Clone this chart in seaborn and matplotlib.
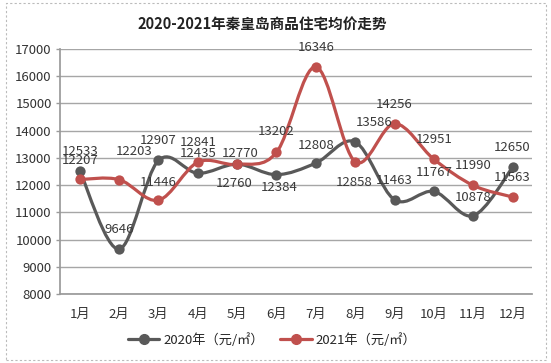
import numpy as np
import pandas as pd
import matplotlib
matplotlib.use("Agg")
import matplotlib.pyplot as plt
import seaborn as sns
from matplotlib.path import Path
from matplotlib.patches import PathPatch, Rectangle
from matplotlib.lines import Line2D

# Data
months = ["1月", "2月", "3月", "4月", "5月", "6月", "7月", "8月", "9月", "10月", "11月", "12月"]
price_2020 = [12533, 9646, 12907, 12435, 12770, 12384, 12808, 13586, 11463, 11767, 10878, 12650]
price_2021 = [12207, 12203, 11446, 12841, 12760, 13202, 16346, 12858, 14256, 12951, 11990, 11563]
series_names = ["2020年（元/㎡）", "2021年（元/㎡）"]
y_ticks = [8000, 9000, 10000, 11000, 12000, 13000, 14000, 15000, 16000, 17000]

# label offsets in points (dx, dy)
off_2020 = [(0, 14), (0, 14), (0, 14), (0, 14), (2, 8), (2, -9),
            (0, 13), (14, 14), (0, 14), (0, 14), (0, 13), (0, 14)]
off_2021 = [(0, 14), (11, 20), (0, 13), (0, 14), (-2, -14), (0, 15),
            (0, 14), (-1, -15), (0, 14), (0, 14), (0, 14), (0, 14)]

df = pd.DataFrame({"month": months, "x": np.arange(len(months)),
                   series_names[0]: price_2020, series_names[1]: price_2021})

gray = "#595959"
red = "#c0504d"

sns.set_theme(style="white", rc={"axes.edgecolor": "#9a9a9a"})
plt.rcParams["font.family"] = ["Noto Sans CJK SC", "DejaVu Sans"]

fig = plt.figure(figsize=(5.51, 3.63), dpi=100)
ax = fig.add_axes([0.109, 0.19, 0.857, 0.675])


def smooth_path(xs, ys):
    # Catmull-Rom style bezier, like Excel's smoothed line
    pts = np.column_stack([xs, ys]).astype(float)
    n = len(pts)
    verts = [pts[0]]
    codes = [Path.MOVETO]
    for i in range(n - 1):
        p0 = pts[i - 1] if i > 0 else pts[i]
        p1 = pts[i]
        p2 = pts[i + 1]
        p3 = pts[i + 2] if i + 2 < n else pts[i + 1]
        c1 = p1 + (p2 - p0) / 6.0
        c2 = p2 - (p3 - p1) / 6.0
        verts += [c1, c2, p2]
        codes += [Path.CURVE4] * 3
    return Path(verts, codes)


for name, color, offs in [(series_names[0], gray, off_2020), (series_names[1], red, off_2021)]:
    patch = PathPatch(smooth_path(df["x"], df[name]), facecolor="none",
                      edgecolor=color, lw=2.3, zorder=3, capstyle="round")
    ax.add_patch(patch)
    sns.scatterplot(data=df, x="x", y=name, color=color, s=55, edgecolor=color,
                    linewidth=0, zorder=4, ax=ax, legend=False)
    for xi, yi, (dx, dy) in zip(df["x"], df[name], offs):
        ax.annotate(str(yi), (xi, yi), xytext=(dx, dy), textcoords="offset points",
                    ha="center", va="center", fontsize=9.5, color="#3a3a3a", zorder=5)

ax.set_xlim(-0.5, len(months) - 0.5)
ax.set_ylim(8000, 17000)
ax.set_yticks(y_ticks)
ax.set_yticklabels([str(v) for v in y_ticks], fontsize=9.5, color="#333333")
ax.set_xticks(df["x"])
ax.set_xticklabels(months, fontsize=9.5, color="#333333")
ax.set_xticks(np.arange(-0.5, len(months), 1.0), minor=True)
ax.tick_params(axis="x", which="major", length=0, pad=10)
ax.tick_params(axis="x", which="minor", length=4, color="#9a9a9a", width=1, direction="out")
ax.tick_params(axis="y", length=3, color="#9a9a9a", width=1, pad=3, left=True)
ax.set_xlabel("")
ax.set_ylabel("")
ax.grid(axis="y", color="#a6a6a6", lw=1)
ax.set_axisbelow(True)
for s in ["top", "right"]:
    ax.spines[s].set_visible(False)
ax.spines["left"].set_color("#9a9a9a")
ax.spines["bottom"].set_color("#9a9a9a")

fig.text(262 / 551, 0.934, "2020-2021年秦皇岛商品住宅均价走势", ha="center", va="center",
         fontsize=10.5, fontweight="bold", color="#222222")

handles = [Line2D([0], [0], color=gray, lw=2.3, marker="o", markersize=7),
           Line2D([0], [0], color=red, lw=2.3, marker="o", markersize=7)]
fig.legend(handles, series_names, loc="center", bbox_to_anchor=(272 / 551, 1 - 340 / 363),
           ncol=2, frameon=False, fontsize=9.5, handlelength=2.4, columnspacing=1.2,
           handletextpad=0.3)

fig.patches.append(Rectangle((6 / 551, 3 / 363), 540 / 551, 357 / 363, transform=fig.transFigure,
                             fill=False, edgecolor="#bbbbbb", lw=0.8, ls=(0, (2, 2))))

fig.savefig("out.png", dpi=100)
